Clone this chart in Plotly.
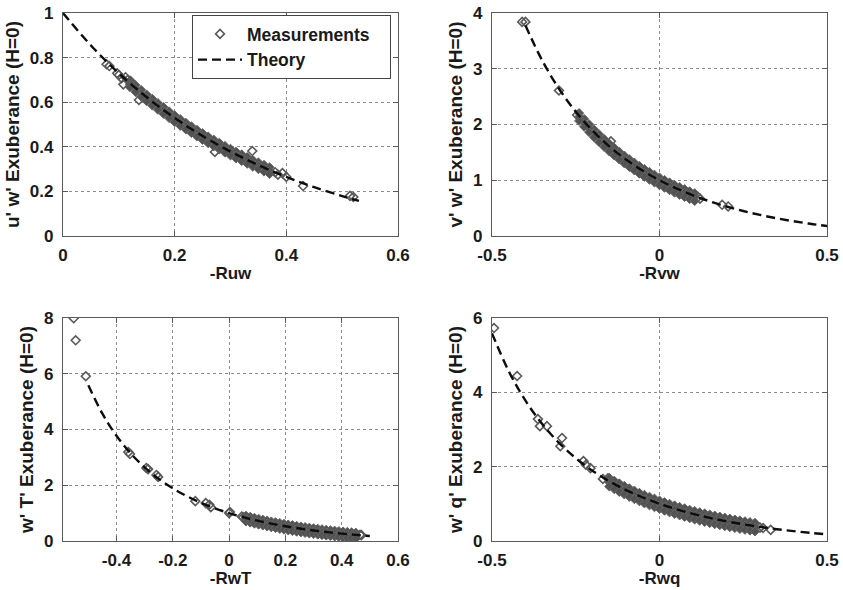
import plotly.graph_objects as go

# ---------------- u'w' ----------------
uw_theory_x = [0.0, 0.05, 0.10, 0.15, 0.20, 0.25, 0.30, 0.35, 0.40, 0.45, 0.50, 0.53]
uw_theory_y = [1.0, 0.8545, 0.7297, 0.6221, 0.5291, 0.4485, 0.3786, 0.3178, 0.2649, 0.2189, 0.1790, 0.1576]

uw_band_x = [0.12, 0.13, 0.14, 0.15, 0.16, 0.17, 0.18, 0.19, 0.20, 0.21, 0.22, 0.23, 0.24,
             0.25, 0.26, 0.27, 0.28, 0.29, 0.30, 0.31, 0.32, 0.33, 0.34, 0.35, 0.36, 0.37]
uw_band_hi = [0.697, 0.676, 0.655, 0.634, 0.615, 0.596, 0.578, 0.559, 0.541, 0.524, 0.508, 0.492, 0.476,
              0.461, 0.446, 0.432, 0.418, 0.404, 0.391, 0.378, 0.366, 0.354, 0.341, 0.330, 0.319, 0.308]
uw_band_mid = [0.681, 0.660, 0.639, 0.618, 0.599, 0.580, 0.562, 0.543, 0.525, 0.508, 0.492, 0.476, 0.460,
               0.445, 0.430, 0.416, 0.402, 0.388, 0.375, 0.362, 0.350, 0.338, 0.325, 0.314, 0.303, 0.292]
uw_band_lo = [0.667, 0.646, 0.625, 0.604, 0.585, 0.566, 0.548, 0.529, 0.511, 0.494, 0.478, 0.462, 0.446,
              0.431, 0.416, 0.402, 0.388, 0.374, 0.361, 0.348, 0.336, 0.324, 0.311, 0.300, 0.289, 0.278]
uw_pts_x = [0.078, 0.083, 0.097, 0.100, 0.105, 0.108, 0.112, 0.116, 0.121, 0.136, 0.272, 0.339,
            0.380, 0.385, 0.393, 0.400, 0.430, 0.514, 0.520]
uw_pts_y = [0.770, 0.762, 0.730, 0.722, 0.708, 0.680, 0.712, 0.700, 0.695, 0.610, 0.377, 0.381,
            0.286, 0.275, 0.282, 0.265, 0.224, 0.180, 0.175]

# ---------------- v'w' ----------------
vw_theory_x = [-0.40, -0.35, -0.30, -0.25, -0.20, -0.15, -0.10, -0.05, 0.0, 0.05, 0.10,
               0.15, 0.20, 0.25, 0.30, 0.35, 0.40, 0.45, 0.50]
vw_theory_y = [3.7751, 3.1470, 2.6417, 2.2297, 1.8901, 1.6075, 1.3705, 1.1702, 1.0, 0.8545, 0.7297,
               0.6221, 0.5291, 0.4485, 0.3786, 0.3178, 0.2649, 0.2189, 0.1790]

vw_band_x = [-0.24, -0.225, -0.21, -0.195, -0.18, -0.165, -0.15, -0.135, -0.12, -0.105, -0.09, -0.075,
             -0.06, -0.045, -0.03, -0.015, 0.0, 0.015, 0.03, 0.045, 0.06, 0.075, 0.09, 0.105]
vw_band_hi = [2.205, 2.100, 2.003, 1.909, 1.822, 1.738, 1.658, 1.583, 1.511, 1.443, 1.378, 1.316,
              1.258, 1.202, 1.150, 1.100, 1.050, 1.005, 0.961, 0.918, 0.878, 0.840, 0.802, 0.768]
vw_band_mid = [2.135, 2.030, 1.933, 1.839, 1.752, 1.668, 1.588, 1.513, 1.441, 1.373, 1.308, 1.246,
               1.188, 1.132, 1.080, 1.030, 0.980, 0.935, 0.891, 0.848, 0.808, 0.770, 0.732, 0.698]
vw_band_lo = [2.065, 1.960, 1.863, 1.769, 1.682, 1.598, 1.518, 1.443, 1.371, 1.303, 1.238, 1.176,
              1.118, 1.062, 1.010, 0.960, 0.910, 0.865, 0.821, 0.778, 0.738, 0.700, 0.662, 0.628]
vw_pts_x = [-0.410, -0.400, -0.300, -0.246, -0.145, 0.115, 0.121, 0.187, 0.205]
vw_pts_y = [3.84, 3.84, 2.61, 2.17, 1.70, 0.70, 0.67, 0.56, 0.53]

# ---------------- w'T' ----------------
wt_theory_x = [-0.50, -0.45, -0.40, -0.35, -0.30, -0.25, -0.20, -0.15, -0.10, -0.05, 0.0,
               0.05, 0.10, 0.15, 0.20, 0.25, 0.30, 0.35, 0.40, 0.45, 0.50]
wt_theory_y = [5.5872, 4.5681, 3.7751, 3.1470, 2.6417, 2.2297, 1.8901, 1.6075, 1.3705, 1.1702, 1.0,
               0.8545, 0.7297, 0.6221, 0.5291, 0.4485, 0.3786, 0.3178, 0.2649, 0.2189, 0.1790]

wt_band_x = [0.06, 0.075, 0.09, 0.105, 0.12, 0.135, 0.15, 0.165, 0.18, 0.195, 0.21, 0.225, 0.24, 0.255,
             0.27, 0.285, 0.30, 0.315, 0.33, 0.345, 0.36, 0.375, 0.39, 0.405, 0.42, 0.435, 0.45]
wt_band_hi = [0.908, 0.870, 0.832, 0.798, 0.765, 0.733, 0.702, 0.674, 0.646, 0.618, 0.592, 0.568, 0.544, 0.521,
              0.500, 0.479, 0.459, 0.440, 0.422, 0.404, 0.387, 0.371, 0.355, 0.340, 0.326, 0.312, 0.299]
wt_band_mid = [0.798, 0.760, 0.722, 0.688, 0.655, 0.623, 0.592, 0.564, 0.536, 0.508, 0.482, 0.458, 0.434, 0.411,
               0.390, 0.369, 0.349, 0.330, 0.312, 0.294, 0.277, 0.261, 0.245, 0.230, 0.216, 0.202, 0.189]
wt_band_lo = [0.698, 0.660, 0.622, 0.588, 0.555, 0.523, 0.492, 0.464, 0.436, 0.408, 0.382, 0.358, 0.334, 0.311,
              0.290, 0.269, 0.249, 0.230, 0.212, 0.194, 0.177, 0.161, 0.145, 0.130, 0.116, 0.102, 0.089]
wt_pts_x = [-0.552, -0.545, -0.509, -0.358, -0.352, -0.294, -0.288, -0.258, -0.252, -0.120, -0.083,
            -0.070, -0.065, 0.000, 0.003, 0.045, 0.050, 0.465, 0.470]
wt_pts_y = [7.99, 7.20, 5.91, 3.19, 3.12, 2.62, 2.58, 2.37, 2.30, 1.43, 1.36,
            1.30, 1.21, 1.00, 1.04, 0.88, 0.85, 0.22, 0.21]

# ---------------- w'q' ----------------
wq_theory_x = wt_theory_x
wq_theory_y = wt_theory_y

wq_band_x = [-0.15, -0.135, -0.12, -0.105, -0.09, -0.075, -0.06, -0.045, -0.03, -0.015, 0.0, 0.015, 0.03,
             0.045, 0.06, 0.075, 0.09, 0.105, 0.12, 0.135, 0.15, 0.165, 0.18, 0.195, 0.21, 0.225, 0.24,
             0.255, 0.27, 0.285]
wq_band_hi = [1.698, 1.623, 1.551, 1.483, 1.418, 1.356, 1.298, 1.242, 1.190, 1.140, 1.090, 1.045, 1.001,
              0.958, 0.918, 0.880, 0.842, 0.808, 0.775, 0.743, 0.712, 0.684, 0.656, 0.628, 0.602, 0.578, 0.554,
              0.531, 0.510, 0.489]
wq_band_mid = [1.578, 1.503, 1.431, 1.363, 1.298, 1.236, 1.178, 1.122, 1.070, 1.020, 0.970, 0.925, 0.881,
               0.838, 0.798, 0.760, 0.722, 0.688, 0.655, 0.623, 0.592, 0.564, 0.536, 0.508, 0.482, 0.458, 0.434,
               0.411, 0.390, 0.369]
wq_band_lo = [1.468, 1.393, 1.321, 1.253, 1.188, 1.126, 1.068, 1.012, 0.960, 0.910, 0.860, 0.815, 0.771,
              0.728, 0.688, 0.650, 0.612, 0.578, 0.545, 0.513, 0.482, 0.454, 0.426, 0.398, 0.372, 0.348, 0.324,
              0.301, 0.280, 0.259]
wq_pts_x = [-0.494, -0.425, -0.363, -0.357, -0.336, -0.291, -0.296, -0.227, -0.220, -0.206, -0.169,
            -0.154, 0.300, 0.309, 0.332]
wq_pts_y = [5.73, 4.44, 3.28, 3.09, 3.09, 2.77, 2.55, 2.15, 2.05, 1.96, 1.67,
            1.69, 0.36, 0.35, 0.30]

# isolated points: open diamonds; the dense cloud overlaps into a solid grey band
OPEN_MARKER = dict(symbol="diamond-open", size=6.8, color="#595959", line=dict(width=1.6, color="#595959"))
BAND_MARKER = dict(symbol="diamond", size=7, color="#525252", line=dict(width=1, color="#666666"))
LINE = dict(color="#0d0d0d", width=2.4, dash="9px,5px")
FONT = "Liberation Sans, Arial, Helvetica, sans-serif"
TXT = "#1a1a1a"
NBSP = "\u00a0"

panels = [
    ("x", "y", uw_pts_x, uw_pts_y, uw_band_x, [uw_band_hi, uw_band_mid, uw_band_lo], uw_theory_x, uw_theory_y),
    ("x2", "y2", vw_pts_x, vw_pts_y, vw_band_x, [vw_band_hi, vw_band_mid, vw_band_lo], vw_theory_x, vw_theory_y),
    ("x3", "y3", wt_pts_x, wt_pts_y, wt_band_x, [wt_band_hi, wt_band_mid, wt_band_lo], wt_theory_x, wt_theory_y),
    ("x4", "y4", wq_pts_x, wq_pts_y, wq_band_x, [wq_band_hi, wq_band_mid, wq_band_lo], wq_theory_x, wq_theory_y),
]

fig = go.Figure()
for i, (xa, ya, px, py, bx, rows, tx, ty) in enumerate(panels):
    band_x, band_y = [], []
    for r in rows:
        band_x += list(bx)
        band_y += list(r)
    fig.add_trace(go.Scatter(x=band_x, y=band_y, mode="markers", marker=BAND_MARKER,
                             name="Measurements", legendgroup="m", xaxis=xa, yaxis=ya, showlegend=False))
    # trailing non-breaking spaces give the legend box some right-hand padding
    fig.add_trace(go.Scatter(x=px, y=py, mode="markers", marker=OPEN_MARKER, name="Measurements" + NBSP * 3,
                             legendgroup="m", xaxis=xa, yaxis=ya, showlegend=(i == 0)))
    fig.add_trace(go.Scatter(x=tx, y=ty, mode="lines", line=dict(LINE, shape="spline"), name="Theory",
                             xaxis=xa, yaxis=ya, showlegend=(i == 0)))

W, H = 843, 590
colx = [(63 / W, 398 / W), (492 / W, 827 / W)]
rowy = [(1 - 236 / H, 1 - 13 / H), (1 - 541 / H, 1 - 318 / H)]


def axis_common():
    return dict(showline=True, linecolor="#5a5a5a", linewidth=1.2, mirror="ticks",
                ticks="inside", ticklen=5, tickcolor="#5a5a5a",
                showgrid=True, gridcolor="#8c8c8c", griddash="dot", gridwidth=1,
                zeroline=False, automargin=False,
                tickfont=dict(family=FONT, size=17, color=TXT, weight="bold"))


def xaxis(dom, rng, vals, texts, title, anchor):
    d = axis_common()
    d.update(domain=dom, range=rng, tickvals=vals, ticktext=texts, anchor=anchor,
             ticklabelstandoff=3,
             title=dict(text=title, standoff=3,
                        font=dict(family=FONT, size=17, color=TXT, weight="bold")))
    return d


def yaxis(dom, rng, vals, texts, title, anchor):
    d = axis_common()
    d.update(domain=dom, range=rng, tickvals=vals, ticktext=texts, anchor=anchor,
             ticklabelstandoff=5,
             title=dict(text=title, standoff=5,
                        font=dict(family=FONT, size=19, color=TXT, weight="bold")))
    return d


fig.update_layout(
    width=W, height=H,
    margin=dict(l=0, r=0, t=0, b=0),
    paper_bgcolor="white", plot_bgcolor="white",
    font=dict(family=FONT, color=TXT),
    xaxis=xaxis(colx[0], [0, 0.6], [0, 0.2, 0.4, 0.6], ["0", "0.2", "0.4", "0.6"], "-Ruw", "y"),
    yaxis=yaxis(rowy[0], [0, 1], [0, 0.2, 0.4, 0.6, 0.8, 1.0], ["0", "0.2", "0.4", "0.6", "0.8", "1"],
                "u' w' Exuberance (H=0)", "x"),
    xaxis2=xaxis(colx[1], [-0.5, 0.5], [-0.5, 0, 0.5], ["-0.5", "0", "0.5"], "-Rvw", "y2"),
    yaxis2=yaxis(rowy[0], [0, 4], [0, 1, 2, 3, 4], ["0", "1", "2", "3", "4"], "v' w' Exuberance (H=0)", "x2"),
    xaxis3=xaxis(colx[0], [-0.59, 0.6], [-0.4, -0.2, 0, 0.2, 0.4, 0.6],
                 ["-0.4", "-0.2", "0", "0.2", "0.4", "0.6"], "-RwT", "y3"),
    yaxis3=yaxis(rowy[1], [0, 8], [0, 2, 4, 6, 8], ["0", "2", "4", "6", "8"], "w' T' Exuberance (H=0)", "x3"),
    xaxis4=xaxis(colx[1], [-0.5, 0.5], [-0.5, 0, 0.5], ["-0.5", "0", "0.5"], "-Rwq", "y4"),
    yaxis4=yaxis(rowy[1], [0, 6], [0, 2, 4, 6], ["0", "2", "4", "6"], "w' q' Exuberance (H=0)", "x4"),
    legend=dict(x=192 / W, xanchor="left", y=1 - 15 / H, yanchor="top",
                bgcolor="white", bordercolor="#444444", borderwidth=1,
                font=dict(family=FONT, size=17.5, color=TXT, weight="bold"),
                tracegroupgap=0, itemwidth=44),
)

fig.write_html("out.html")
